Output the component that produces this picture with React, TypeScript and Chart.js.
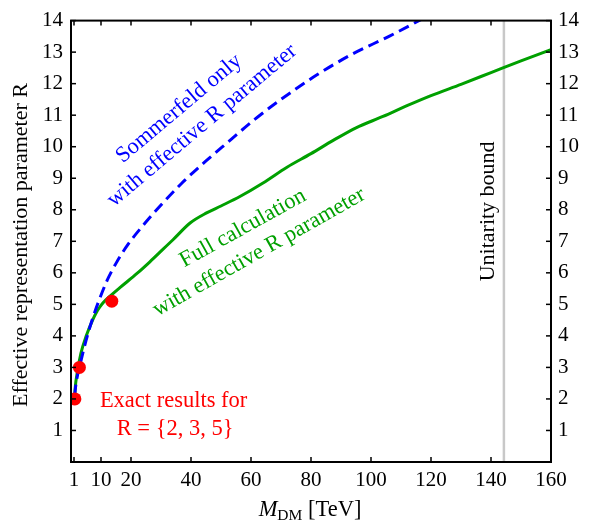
import React, { useEffect, useRef } from 'react';
import { Chart, registerables } from 'chart.js';

Chart.register(...registerables);

// ---- data ----
const xTickValues = [1, 10, 20, 40, 60, 80, 100, 120, 140, 160];
const yTickValues = [1, 2, 3, 4, 5, 6, 7, 8, 9, 10, 11, 12, 13, 14];

const fullCalcX = [1.2, 1.4, 2.2, 3.3, 5, 7.2, 8.5, 9.5, 10.7, 13.5, 16.3, 22, 26.3, 30.7, 34, 39.7, 45.2, 50, 56.3, 64, 72, 80, 87.4, 95, 104, 112, 120, 130, 140, 150, 160];
const fullCalcY = [2.05, 2.35, 2.9, 3.45, 3.98, 4.5, 4.75, 4.9, 5.05, 5.3, 5.53, 5.98, 6.35, 6.75, 7.05, 7.58, 7.9, 8.12, 8.42, 8.85, 9.35, 9.78, 10.2, 10.6, 10.96, 11.3, 11.62, 11.98, 12.35, 12.72, 13.08];

const sommerfeldX = [1.2, 1.7, 3.3, 5, 7.2, 9.4, 12, 15, 19, 24, 30, 37, 45, 53, 61, 70, 82, 94, 106, 118];
const sommerfeldY = [2.1, 2.5, 3.2, 3.85, 4.55, 5.14, 5.75, 6.3, 6.9, 7.5, 8.15, 8.85, 9.55, 10.2, 10.85, 11.5, 12.28, 12.95, 13.5, 14.1];

const exactX = [1.3, 2.8, 13.6];
const exactY = [2, 3, 5.1];

const unitarityBound = 144.3;
const xRange = [0, 160];
const yRange = [0, 14];

const FONT = '"Liberation Serif", "Times New Roman", serif';
const GREEN = 'rgb(0,160,0)';
const BLUE = 'rgb(0,0,255)';
const RED = 'rgb(255,0,0)';

function toPts(xs: number[], ys: number[]) {
  return xs.map((x, i) => ({ x, y: ys[i] }));
}

const decorPlugin = {
  id: 'decor',
  afterDatasetsDraw(chart: any) {
    const { ctx, chartArea: a, scales } = chart;
    const xs = scales.x;
    const ys = scales.y;
    ctx.save();
    ctx.strokeStyle = '#000';
    ctx.lineWidth = 1.5;
    const seg = (x1: number, y1: number, x2: number, y2: number) => {
      ctx.beginPath();
      ctx.moveTo(x1, y1);
      ctx.lineTo(x2, y2);
      ctx.stroke();
    };
    for (const t of xTickValues) {
      const px = xs.getPixelForValue(t);
      seg(px, a.bottom, px, a.bottom - 5);
      seg(px, a.top, px, a.top + 5);
    }
    for (const t of yTickValues) {
      const py = ys.getPixelForValue(t);
      seg(a.left, py, a.left + 5, py);
      seg(a.right, py, a.right - 5, py);
    }
    ctx.lineWidth = 2;
    ctx.strokeRect(a.left, a.top, a.right - a.left, a.bottom - a.top);

    const text = (s: string, px: number, py: number, deg: number, color: string, size = 22.5) => {
      ctx.save();
      ctx.translate(px, py);
      ctx.rotate((deg * Math.PI) / 180);
      ctx.fillStyle = color;
      ctx.font = `${size}px ${FONT}`;
      ctx.textAlign = 'center';
      ctx.textBaseline = 'middle';
      ctx.fillText(s, 0, 0);
      ctx.restore();
    };
    const at = (x: number, y: number) => [xs.getPixelForValue(x), ys.getPixelForValue(y)];

    let p = at(36, 11.21);
    text('Sommerfeld only', p[0], p[1], -40, BLUE);
    p = at(43.7, 10.67);
    text('with effective R parameter', p[0], p[1], -40, BLUE);
    p = at(57.3, 7.41);
    text('Full calculation', p[0], p[1], -29, GREEN);
    p = at(62.7, 6.65);
    text('with effective R parameter', p[0], p[1], -29.5, GREEN);
    p = at(34.2, 1.93);
    text('Exact results for', p[0], p[1], 0, RED);
    p = at(34.7, 1.05);
    text('R = {2, 3, 5}', p[0], p[1], 0, RED);
    p = at(139, 7.95);
    text('Unitarity bound', p[0], p[1], -90, '#000', 22);

    // y axis title
    text('Effective representation parameter R', 21, 245, -90, '#000', 22);

    // x axis title with subscript
    ctx.fillStyle = '#000';
    ctx.textBaseline = 'alphabetic';
    ctx.textAlign = 'left';
    const mFont = `italic 22.5px ${FONT}`;
    const subFont = `15.5px ${FONT}`;
    const restFont = `22.5px ${FONT}`;
    ctx.font = mFont;
    const wM = ctx.measureText('M').width;
    ctx.font = subFont;
    const wSub = ctx.measureText('DM').width;
    ctx.font = restFont;
    const wRest = ctx.measureText(' [TeV]').width;
    const total = wM + wSub + wRest;
    let cx = 310 - total / 2;
    const base = 516;
    ctx.font = mFont;
    ctx.fillText('M', cx, base);
    cx += wM;
    ctx.font = subFont;
    ctx.fillText('DM', cx, base + 4);
    cx += wSub;
    ctx.font = restFont;
    ctx.fillText(' [TeV]', cx, base);
    ctx.restore();
  },
};

export default function App() {
  const ref = useRef<HTMLCanvasElement | null>(null);
  useEffect(() => {
    if (!ref.current) return;
    const tickFont = { family: FONT, size: 21 };
    const chart = new Chart(ref.current, {
      type: 'scatter',
      data: {
        datasets: [
          {
            label: 'Exact results',
            data: toPts(exactX, exactY),
            showLine: false,
            pointRadius: 6.5,
            pointBackgroundColor: RED,
            pointBorderWidth: 0,
            borderColor: RED,
            clip: 0,
          } as any,
          {
            label: 'Sommerfeld only',
            data: toPts(sommerfeldX, sommerfeldY),
            showLine: true,
            borderColor: BLUE,
            borderWidth: 3,
            borderDash: [11, 6],
            pointRadius: 0,
            cubicInterpolationMode: 'monotone',
            clip: 0,
          } as any,
          {
            label: 'Full calculation',
            data: toPts(fullCalcX, fullCalcY),
            showLine: true,
            borderColor: GREEN,
            borderWidth: 3,
            pointRadius: 0,
            cubicInterpolationMode: 'monotone',
            clip: 0,
          } as any,
          {
            label: 'Unitarity bound',
            data: [
              { x: unitarityBound, y: yRange[0] },
              { x: unitarityBound, y: yRange[1] },
            ],
            showLine: true,
            borderColor: '#c8c8c8',
            borderWidth: 2.5,
            pointRadius: 0,
            clip: 0,
          } as any,
        ],
      },
      options: {
        animation: false,
        responsive: false,
        devicePixelRatio: 1,
        events: [],
        layout: { padding: { top: 20, left: 0, right: 0, bottom: 0 } },
        plugins: { legend: { display: false }, tooltip: { enabled: false } },
        scales: {
          x: {
            type: 'linear',
            position: 'bottom',
            min: xRange[0],
            max: xRange[1],
            grid: { display: false, drawTicks: false },
            border: { display: false },
            ticks: {
              font: tickFont,
              color: '#000',
              padding: 6,
              autoSkip: false,
              maxRotation: 0,
              minRotation: 0,
            },
            afterBuildTicks: (s: any) => {
              s.ticks = xTickValues.map((v) => ({ value: v }));
            },
            afterFit: (s: any) => {
              s.height = 58;
            },
          },
          y: {
            type: 'linear',
            position: 'left',
            min: yRange[0],
            max: yRange[1],
            grid: { display: false, drawTicks: false },
            border: { display: false },
            ticks: { font: tickFont, color: '#000', padding: 8 },
            afterBuildTicks: (s: any) => {
              s.ticks = yTickValues.map((v) => ({ value: v }));
            },
            afterFit: (s: any) => {
              s.width = 71;
            },
          },
          y2: {
            type: 'linear',
            position: 'right',
            min: yRange[0],
            max: yRange[1],
            grid: { display: false, drawTicks: false },
            border: { display: false },
            ticks: { font: tickFont, color: '#000', padding: 7 },
            afterBuildTicks: (s: any) => {
              s.ticks = yTickValues.map((v) => ({ value: v }));
            },
            afterFit: (s: any) => {
              s.width = 39;
            },
          },
        },
      } as any,
      plugins: [decorPlugin],
    });
    return () => chart.destroy();
  }, []);
  return (
    <div style={{ position: 'absolute', left: 0, top: 0, width: 590, height: 520, background: '#fff' }}>
      <canvas ref={ref} width={590} height={520} style={{ display: 'block' }} />
    </div>
  );
}
